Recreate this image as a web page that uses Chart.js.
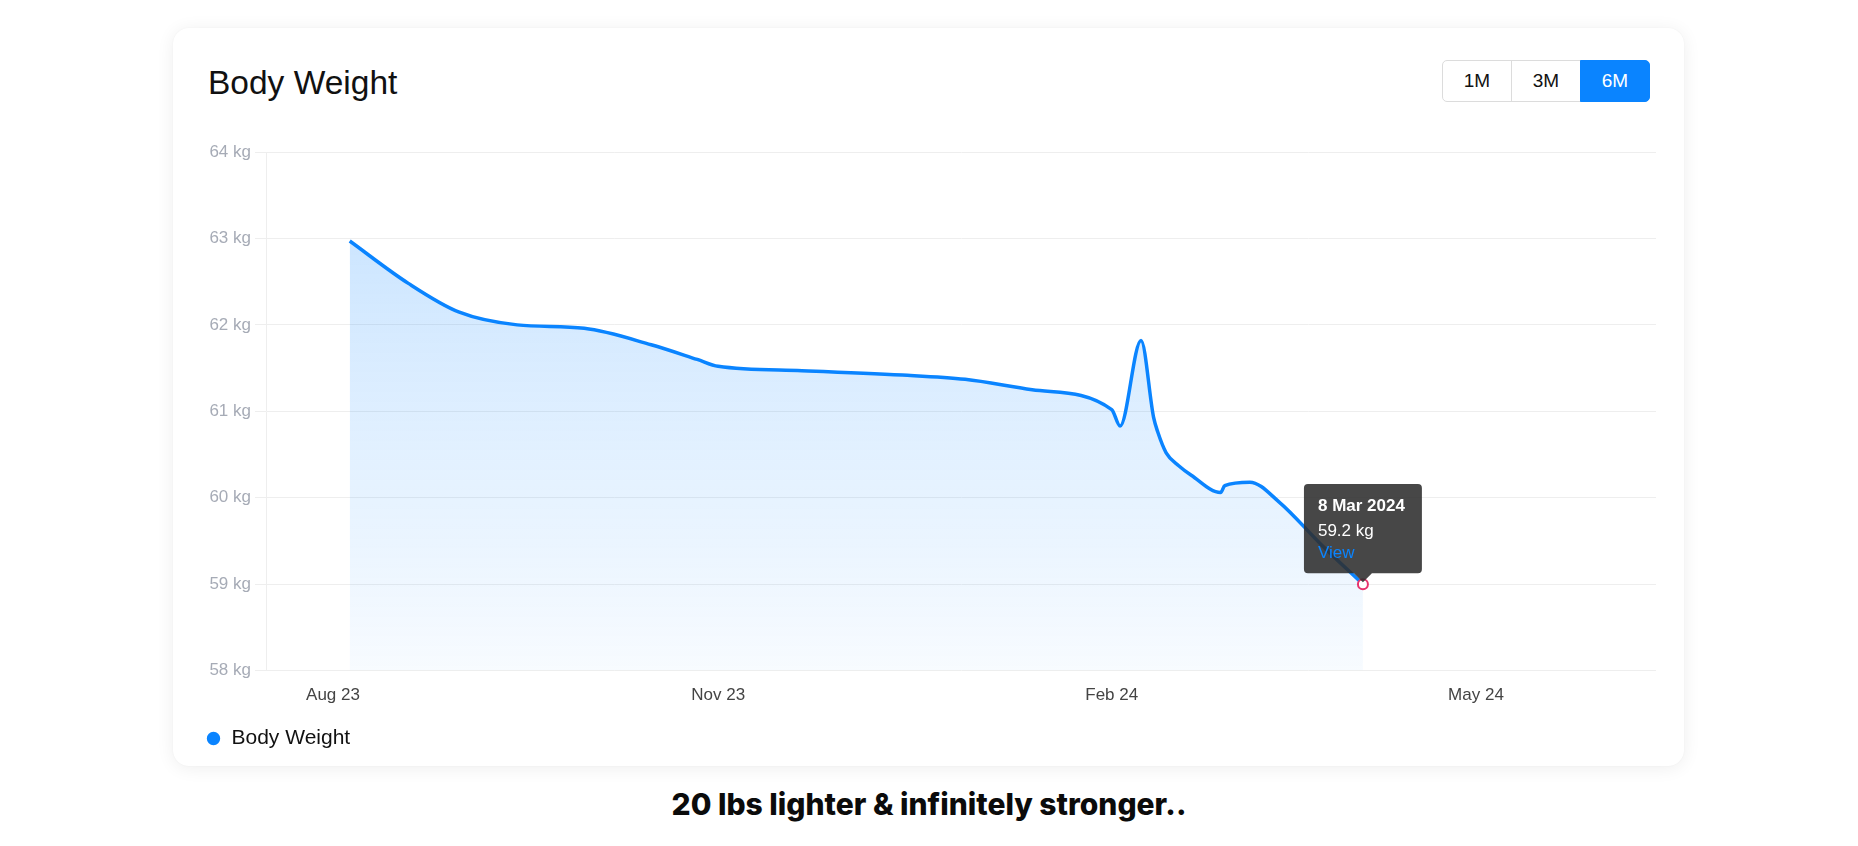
<!DOCTYPE html>
<html>
<head>
<meta charset="utf-8">
<script src="https://cdn.jsdelivr.net/npm/chart.js@4.4.1/dist/chart.umd.min.js"></script>
<style>
  html, body { margin: 0; padding: 0; background: #ffffff; }
  body { width: 1858px; height: 846px; position: relative; overflow: hidden; font-family: "Liberation Sans", Arial, sans-serif; }
  .card {
    position: absolute; left: 173px; top: 28px; width: 1511px; height: 738px;
    background: #fff; border-radius: 16px;
    box-shadow: 0 2px 18px rgba(0, 0, 0, 0.07), 0 0 2px rgba(0, 0, 0, 0.04);
  }
  .title {
    position: absolute; left: 208px; top: 63px; margin: 0;
    font-size: 33.5px; line-height: 40px; font-weight: 400; color: #111;
  }
  .range { position: absolute; left: 1443px; top: 60px; display: flex; }
  .range button {
    width: 70px; height: 42px; margin: 0 0 0 -1px; padding: 0;
    font-family: "Liberation Sans", Arial, sans-serif; font-size: 19px; color: #111;
    background: #fff; border: 1px solid #dcdcdc;
  }
  .range button:first-child { border-radius: 5px 0 0 5px; }
  .range button:last-child { border-radius: 0 5px 5px 0; }
  .range button.on { background: #0a84ff; border-color: #0a84ff; color: #fff; }
  #wrap { position: absolute; left: 196px; top: 120px; width: 1474px; height: 639px; }
  .caption {
    position: absolute; left: 0; width: 1858px; top: 784px; text-align: center; margin: 0;
    font-family: Inter, "Noto Sans", sans-serif; font-weight: 800; font-size: 30px; line-height: 40px; color: #0b0b0b;
  }
</style>
</head>
<body>
<div class="card"></div>
<h2 class="title">Body Weight</h2>
<div class="range"><button>1M</button><button>3M</button><button class="on">6M</button></div>
<div id="wrap"><canvas id="chart"></canvas></div>
<p class="caption">20 lbs lighter &amp; infinitely stronger..</p>

<script>
// days counted from 1 Aug 2023
const days = [4, 18, 30, 44, 60, 76, 87, 92, 112, 136, 151, 167, 186, 188, 193, 196, 197, 199, 202, 205, 212, 213, 219, 226, 236, 246];
const weights = [62.97, 62.48, 62.15, 62.0, 61.96, 61.77, 61.6, 61.52, 61.47, 61.42, 61.37, 61.25, 61.02, 60.83, 61.82, 60.93, 60.76, 60.52, 60.37, 60.26, 60.06, 60.14, 60.18, 59.95, 59.46, 59.0];

const tickDays = [0, 92, 186, 273];
const tickLabels = ["Aug 23", "Nov 23", "Feb 24", "May 24"];

const hoverDate = "8 Mar 2024";
const hoverKg = 59.2;

const BLUE = "#0a84ff";

const drawChart = () => {
   const ctx = document.getElementById("chart").getContext("2d");

   const fillGradient = (context) => {
      const area = context.chart.chartArea;
      if (!area) return "rgba(10, 132, 255, 0.12)";
      const g = context.chart.ctx.createLinearGradient(0, area.top, 0, area.bottom);
      g.addColorStop(0, "rgba(10, 132, 255, 0.24)");
      g.addColorStop(1, "rgba(10, 132, 255, 0.03)");
      return g;
   };

   const chart = new Chart(ctx, {
      type: "line",
      data: {
         datasets: [
            {
               label: "Body Weight",
               data: days.map((d, i) => ({ x: d, y: weights[i] })),
               borderColor: BLUE,
               backgroundColor: fillGradient,
               borderWidth: 3.5,
               fill: "start",
               tension: 0.4,
               cubicInterpolationMode: "monotone",
               pointRadius: 0,
               pointHoverRadius: 5,
               pointHoverBorderWidth: 2,
               pointHoverBackgroundColor: "#fff",
               pointHoverBorderColor: "#e8336d",
               pointBackgroundColor: BLUE,
               pointStyle: "circle",
            },
         ],
      },
      options: {
         responsive: true,
         maintainAspectRatio: false,
         animation: false,
         events: [],
         layout: { padding: { top: 32, right: 14, left: 3, bottom: 0 } },
         plugins: {
            legend: {
               display: true,
               position: "bottom",
               align: "start",
               labels: {
                  usePointStyle: true,
                  pointStyle: "circle",
                  boxWidth: 15,
                  boxHeight: 7,
                  padding: 7,
                  color: "#111",
                  font: { family: "Liberation Sans", size: 21 },
               },
            },
            tooltip: {
               enabled: true,
               yAlign: "bottom",
               xAlign: "center",
               backgroundColor: "rgba(45, 45, 45, 0.88)",
               titleColor: "#fff",
               bodyColor: "#fff",
               footerColor: BLUE,
               titleFont: { family: "Liberation Sans", size: 17, weight: "bold" },
               bodyFont: { family: "Liberation Sans", size: 17 },
               footerFont: { family: "Liberation Sans", size: 17, weight: "normal" },
               titleMarginBottom: 5,
               footerMarginTop: 1,
               padding: { top: 12, bottom: 10, left: 14, right: 17 },
               cornerRadius: 4,
               caretSize: 9,
               caretPadding: 2,
               displayColors: false,
               callbacks: {
                  title: () => hoverDate,
                  label: () => `${hoverKg} kg`,
                  footer: () => "View",
               },
            },
         },
         scales: {
            x: {
               type: "linear",
               min: -16,
               max: 316,
               afterBuildTicks: (scale) => {
                  scale.ticks = tickDays.map((v) => ({ value: v }));
               },
               ticks: {
                  autoSkip: false,
                  maxRotation: 0,
                  padding: 15,
                  color: "#444",
                  font: { family: "Liberation Sans", size: 17 },
                  callback: (value) => tickLabels[tickDays.indexOf(value)],
               },
               grid: { display: false, drawTicks: false },
               border: { display: false },
            },
            y: {
               min: 58,
               max: 64,
               afterFit: (scale) => {
                  scale.width = 67;
               },
               ticks: {
                  stepSize: 1,
                  padding: 4,
                  color: "#a6abb6",
                  font: { family: "Liberation Sans", size: 17 },
                  callback: (value) => `${value} kg`,
               },
               grid: { color: "#eeeeee", tickLength: 11, lineWidth: 1 },
               border: { display: true, color: "#eeeeee" },
            },
         },
      },
   });

   const last = [{ datasetIndex: 0, index: weights.length - 1 }];
   chart.setActiveElements(last);
   chart.tooltip.setActiveElements(last, { x: 0, y: 0 });
   chart.update("none");
};

drawChart();
</script>
</body>
</html>
